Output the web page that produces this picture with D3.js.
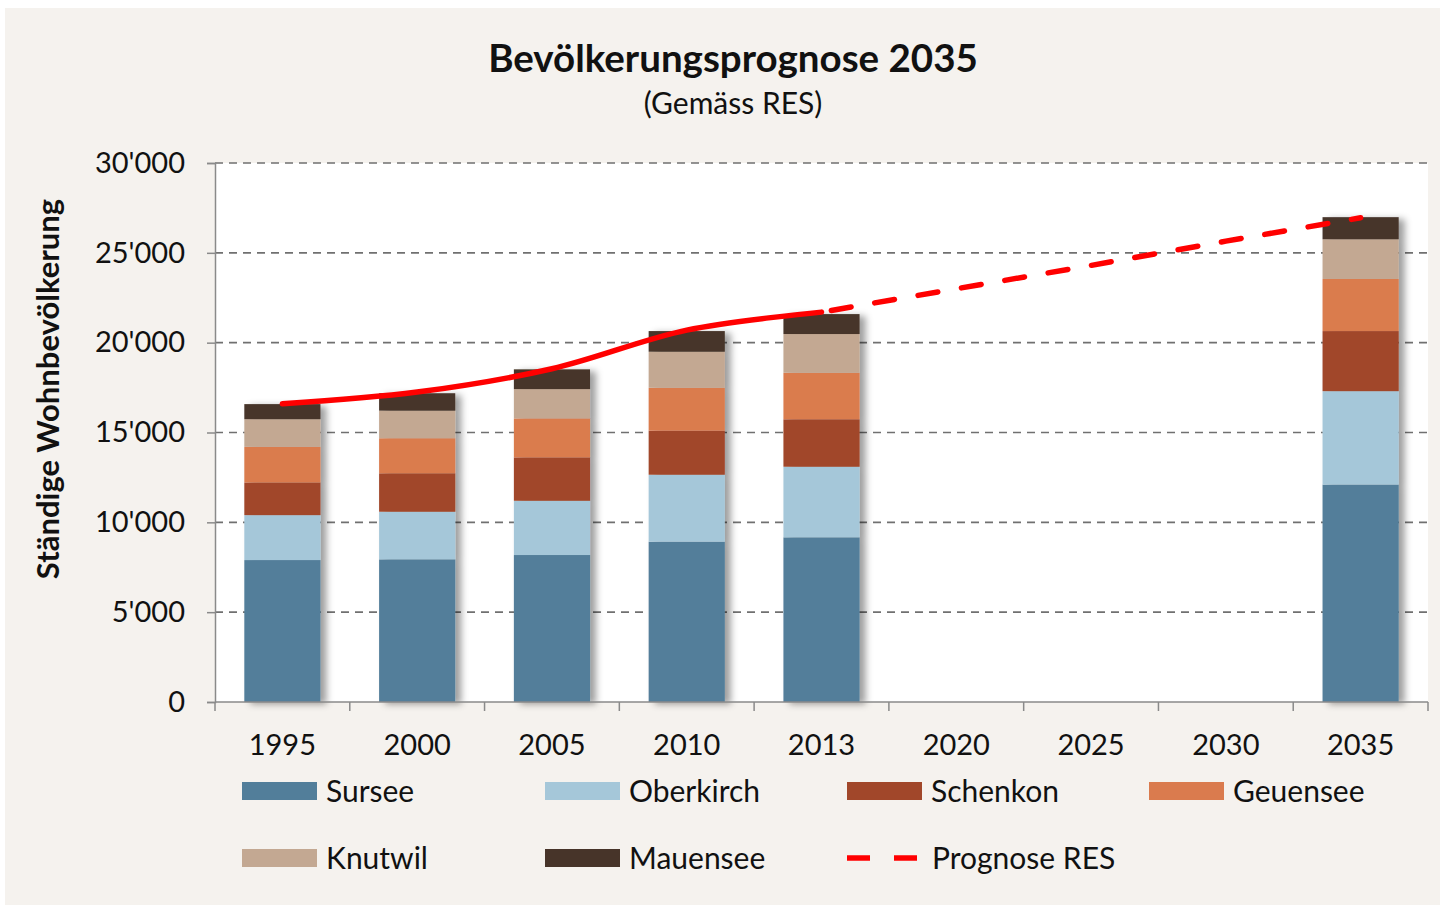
<html lang="de">
<head>
<meta charset="UTF-8">
<title>Bevölkerungsprognose 2035</title>
<script src="https://d3js.org/d3.v7.min.js"></script>
<style>
  body { margin: 0; background: #fff; }
  text { font-family: Lato, "Open Sans", sans-serif; fill: #111; }
</style>
</head>
<body>
<svg width="1445" height="909"></svg>
<script>
// data
var years = ["1995", "2000", "2005", "2010", "2013", "2020", "2025", "2030", "2035"];
var sursee    = [7900, 7940, 8180, 8920, 9165, null, null, null, 12100];
var oberkirch = [2500, 2650, 3020, 3730, 3930, null, null, null, 5200];
var schenkon  = [1820, 2140, 2415, 2450, 2640, null, null, null, 3345];
var geuensee  = [1980, 1950, 2170, 2390, 2590, null, null, null, 2900];
var knutwil   = [1540, 1535, 1630, 2005, 2155, null, null, null, 2210];
var mauensee  = [840, 970, 1100, 1150, 1110, null, null, null, 1230];
var prognoseIst = [16600, 17250, 18550, 20700, 21700, null, null, null, null];
var prognoseRes = [null, null, null, null, 21700, 23000, 24300, 25650, 26950];
var yTicks = [0, 5000, 10000, 15000, 20000, 25000, 30000];

var seriesNames = ["Sursee", "Oberkirch", "Schenkon", "Geuensee", "Knutwil", "Mauensee"];
var seriesValues = [sursee, oberkirch, schenkon, geuensee, knutwil, mauensee];
var colors = ["#527e9a", "#a5c7d9", "#a1472a", "#da7b4e", "#c3a892", "#473429"];

var svg = d3.select("svg");

// chart background
svg.append("rect").attr("x", 5).attr("y", 8).attr("width", 1435).attr("height", 897).attr("fill", "#f5f2ee");

var plotLeft = 215, plotRight = 1428, plotTop = 163, plotBottom = 702;
svg.append("rect").attr("x", plotLeft).attr("y", plotTop)
  .attr("width", plotRight - plotLeft).attr("height", plotBottom - plotTop).attr("fill", "#fff");

var defs = svg.append("defs");
var f = defs.append("filter").attr("id", "shadow").attr("x", "-20%").attr("y", "-10%").attr("width", "150%").attr("height", "130%");
f.append("feDropShadow").attr("dx", 6).attr("dy", 2).attr("stdDeviation", 3.5)
  .attr("flood-color", "#000").attr("flood-opacity", 0.38);

var x = d3.scaleBand().domain(years).range([plotLeft, plotRight]).paddingInner(0.435).paddingOuter(0.2175);
var y = d3.scaleLinear().domain([0, 30000]).range([plotBottom, plotTop]);

// gridlines
svg.append("g").selectAll("line").data(yTicks.slice(1)).enter().append("line")
  .attr("x1", plotLeft).attr("x2", plotRight)
  .attr("y1", function (d) { return y(d); }).attr("y2", function (d) { return y(d); })
  .attr("stroke", "#707070").attr("stroke-width", 1.7).attr("stroke-dasharray", "8,6");

// stacked bars
var table = years.map(function (yr, i) {
  var row = { year: yr };
  seriesNames.forEach(function (n, k) { row[n] = seriesValues[k][i]; });
  return row;
}).filter(function (r) { return r.Sursee != null; });

var stacked = d3.stack().keys(seriesNames)(table);

var bars = svg.append("g").attr("filter", "url(#shadow)");
bars.selectAll("g").data(stacked).enter().append("g")
  .attr("fill", function (d, i) { return colors[i]; })
  .selectAll("rect").data(function (d) { return d; }).enter().append("rect")
  .attr("x", function (d) { return x(d.data.year); })
  .attr("y", function (d) { return y(d[1]); })
  .attr("width", x.bandwidth())
  .attr("height", function (d) { return y(d[0]) - y(d[1]); });

// axes
var yAxis = svg.append("g").attr("transform", "translate(" + plotLeft + ",0)")
  .call(d3.axisLeft(y).tickValues(yTicks).tickSize(8).tickPadding(22)
    .tickFormat(function (d) { return d3.format(",")(d).replace(",", "'"); }));
yAxis.select(".domain").attr("stroke", "#8a8a8a").attr("stroke-width", 1.5);
yAxis.selectAll(".tick line").attr("stroke", "#8a8a8a").attr("stroke-width", 1.5);
yAxis.selectAll(".tick text").attr("font-size", 29).attr("fill", "#111").style("font-family", "Lato, sans-serif");

var xAxis = svg.append("g").attr("transform", "translate(0," + plotBottom + ")");
xAxis.append("line").attr("x1", plotLeft).attr("x2", plotRight).attr("stroke", "#8a8a8a").attr("stroke-width", 1.5);
var step = x.step();
xAxis.selectAll(".tk").data(d3.range(years.length + 1)).enter().append("line")
  .attr("x1", function (i) { return plotLeft + i * step; }).attr("x2", function (i) { return plotLeft + i * step; })
  .attr("y1", 0).attr("y2", 9).attr("stroke", "#8a8a8a").attr("stroke-width", 1.5);
xAxis.selectAll("text").data(years).enter().append("text")
  .attr("x", function (d) { return x(d) + x.bandwidth() / 2; })
  .attr("y", 53).attr("text-anchor", "middle").attr("font-size", 29).text(function (d) { return d; });

// prognose line
var cx = function (i) { return x(years[i]) + x.bandwidth() / 2; };
var lineIst = d3.line().defined(function (d) { return d != null; })
  .x(function (d, i) { return cx(i); }).y(function (d) { return y(d); })
  .curve(d3.curveCatmullRom);
svg.append("path").datum(prognoseIst).attr("d", lineIst)
  .attr("fill", "none").attr("stroke", "#ff0000").attr("stroke-width", 5.5).attr("stroke-linecap", "round");
var lineRes = d3.line().defined(function (d) { return d != null; })
  .x(function (d, i) { return cx(i); }).y(function (d) { return y(d); });
svg.append("path").datum(prognoseRes).attr("d", lineRes)
  .attr("fill", "none").attr("stroke", "#ff0000").attr("stroke-width", 5.5)
  .attr("stroke-dasharray", "20,24").attr("stroke-dashoffset", -10).attr("stroke-linecap", "round");

// titles
svg.append("text").attr("x", 733).attr("y", 72).attr("text-anchor", "middle")
  .attr("font-size", 38.5).attr("font-weight", "bold").text("Bevölkerungsprognose 2035");
svg.append("text").attr("x", 733).attr("y", 114).attr("text-anchor", "middle")
  .attr("font-size", 30).text("(Gemäss RES)");
svg.append("text").attr("transform", "translate(59,389) rotate(-90)").attr("text-anchor", "middle")
  .attr("font-size", 31).attr("font-weight", "bold").text("Ständige Wohnbevölkerung");

// legend
var legendItems = seriesNames.concat(["Prognose RES"]);
var colX = [242, 545, 847, 1149], rowY = [791, 858];
var lg = svg.append("g").selectAll("g").data(legendItems).enter().append("g")
  .attr("transform", function (d, i) { return "translate(" + colX[i % 4] + "," + rowY[Math.floor(i / 4)] + ")"; });
lg.filter(function (d, i) { return i < 6; }).append("rect")
  .attr("x", 0).attr("y", -9).attr("width", 75).attr("height", 18)
  .attr("fill", function (d, i) { return colors[i]; });
lg.filter(function (d, i) { return i == 6; }).append("line")
  .attr("x1", 0).attr("x2", 70).attr("y1", 0).attr("y2", 0)
  .attr("stroke", "#ff0000").attr("stroke-width", 5.5).attr("stroke-dasharray", "23,24");
lg.append("text").attr("x", function (d, i) { return i == 6 ? 85 : 84; }).attr("y", 0).attr("dy", "0.35em")
  .attr("font-size", 30).text(function (d) { return d; });
</script>
</body>
</html>
